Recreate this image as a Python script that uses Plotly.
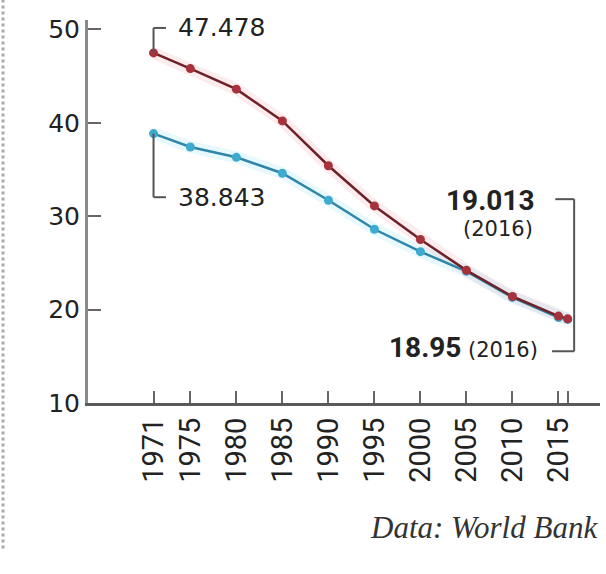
import plotly.graph_objects as go

# Survey years and the two series
years = [1971, 1975, 1980, 1985, 1990, 1995, 2000, 2005, 2010, 2015, 2016]
series_red = [47.478, 45.8, 43.6, 40.2, 35.4, 31.1, 27.5, 24.2, 21.4, 19.3, 19.013]
series_blue = [38.843, 37.4, 36.3, 34.6, 31.7, 28.6, 26.2, 24.1, 21.3, 19.15, 18.95]

year_ticks = [1971, 1975, 1980, 1985, 1990, 1995, 2000, 2005, 2010, 2015, 2016]
year_labels = ["1971", "1975", "1980", "1985", "1990", "1995", "2000", "2005", "2010", "2015", ""]
value_ticks = [10, 20, 30, 40, 50]

RED_LINE = "#6e2228"
RED_MARK = "#a8323c"
BLUE_LINE = "#2f86a6"
BLUE_MARK = "#3eaad0"
INK = "#222222"
GUIDE = "#555555"

fig = go.Figure()

# soft halo beneath each line
fig.add_trace(go.Scatter(x=years, y=series_red, mode="lines",
                         line=dict(color="rgba(235,120,130,0.14)", width=12),
                         hoverinfo="skip", showlegend=False))
fig.add_trace(go.Scatter(x=years, y=series_blue, mode="lines",
                         line=dict(color="rgba(90,215,245,0.14)", width=12),
                         hoverinfo="skip", showlegend=False))

fig.add_trace(go.Scatter(x=years, y=series_blue, mode="lines+markers",
                         line=dict(color=BLUE_LINE, width=2.5),
                         marker=dict(color=BLUE_MARK, size=9),
                         showlegend=False, cliponaxis=False))
fig.add_trace(go.Scatter(x=years, y=series_red, mode="lines+markers",
                         line=dict(color=RED_LINE, width=2.5),
                         marker=dict(color=RED_MARK, size=9),
                         showlegend=False, cliponaxis=False))

# bracket leaders for the first and last values
first_red, first_blue = series_red[0], series_blue[0]
x0 = years[0]
top_y, low_y = 50.15, 32.03
arm = 1.35
shapes = [
    dict(type="line", x0=x0, x1=x0, y0=first_red, y1=top_y),
    dict(type="line", x0=x0, x1=x0 + arm, y0=top_y, y1=top_y),
    dict(type="line", x0=x0, x1=x0, y0=first_blue, y1=low_y),
    dict(type="line", x0=x0, x1=x0 + arm, y0=low_y, y1=low_y),
]
xr = 2016.7
r_top, r_bot = 31.82, 15.54
shapes += [
    dict(type="line", x0=xr, x1=xr, y0=r_top, y1=r_bot),
    dict(type="line", x0=xr - 2.05, x1=xr, y0=r_top, y1=r_top),
    dict(type="line", x0=xr - 2.4, x1=xr, y0=r_bot, y1=r_bot),
]
for s in shapes:
    s.update(xref="x", yref="y", line=dict(color=GUIDE, width=2))
# dotted page edge
shapes.append(dict(type="line", xref="paper", yref="paper", x0=-0.166, x1=-0.166,
                   y0=-0.38, y1=1.06, line=dict(color="#aaaaaa", width=3, dash="dot")))

reg = dict(family="DejaVu Sans", size=25, color=INK)
annotations = [
    dict(x=x0, y=top_y, text=f"{first_red:.3f}", xanchor="left", yanchor="middle",
         xshift=22, showarrow=False, font=reg),
    dict(x=x0, y=low_y, text=f"{first_blue:.3f}", xanchor="left", yanchor="middle",
         xshift=22, showarrow=False, font=reg),
    dict(x=xr, y=31.71, text=f"<b>{series_red[-1]:.3f}</b>", xanchor="right", yanchor="middle",
         xshift=-38, showarrow=False, font=dict(family="Roboto", size=28, color=INK)),
    dict(x=xr, y=28.6, text="(2016)", xanchor="right", yanchor="middle",
         xshift=-39, showarrow=False, font=dict(family="DejaVu Sans", size=21, color=INK)),
    dict(x=xr, y=15.97,
         text=f"<b><span style='font-family:Roboto;font-size:28px'>{series_blue[-1]:.2f}</span></b> (2016)",
         xanchor="right", yanchor="middle", xshift=-34, showarrow=False,
         font=dict(family="DejaVu Sans", size=21, color=INK)),
    dict(xref="paper", yref="paper", x=1.0, y=-0.325, text="<i>Data: World Bank</i>",
         xanchor="right", yanchor="middle", showarrow=False,
         font=dict(family="Liberation Serif", size=31, color="#333333")),
]

fig.update_layout(
    width=606, height=574,
    margin=dict(l=88, r=6, t=20, b=171),
    paper_bgcolor="white", plot_bgcolor="white",
    shapes=shapes, annotations=annotations,
    xaxis=dict(range=[1963.88, 2019.51], tickvals=year_ticks, ticktext=year_labels,
               tickangle=-90, ticks="inside", ticklen=12, tickwidth=2, tickcolor="#666666",
               showline=True, linecolor="#5a5a5a", linewidth=3, showgrid=False, zeroline=False,
               tickfont=dict(family="Roboto", size=29, color=INK)),
    yaxis=dict(range=[10, 51], tickvals=value_ticks, ticks="inside", ticklen=13,
               tickwidth=2, tickcolor="#666666", showline=True, linecolor="#8a8a8a",
               linewidth=3, showgrid=False, zeroline=False,
               tickfont=dict(family="DejaVu Sans", size=25, color=INK)),
)

fig.write_html("out.html")
